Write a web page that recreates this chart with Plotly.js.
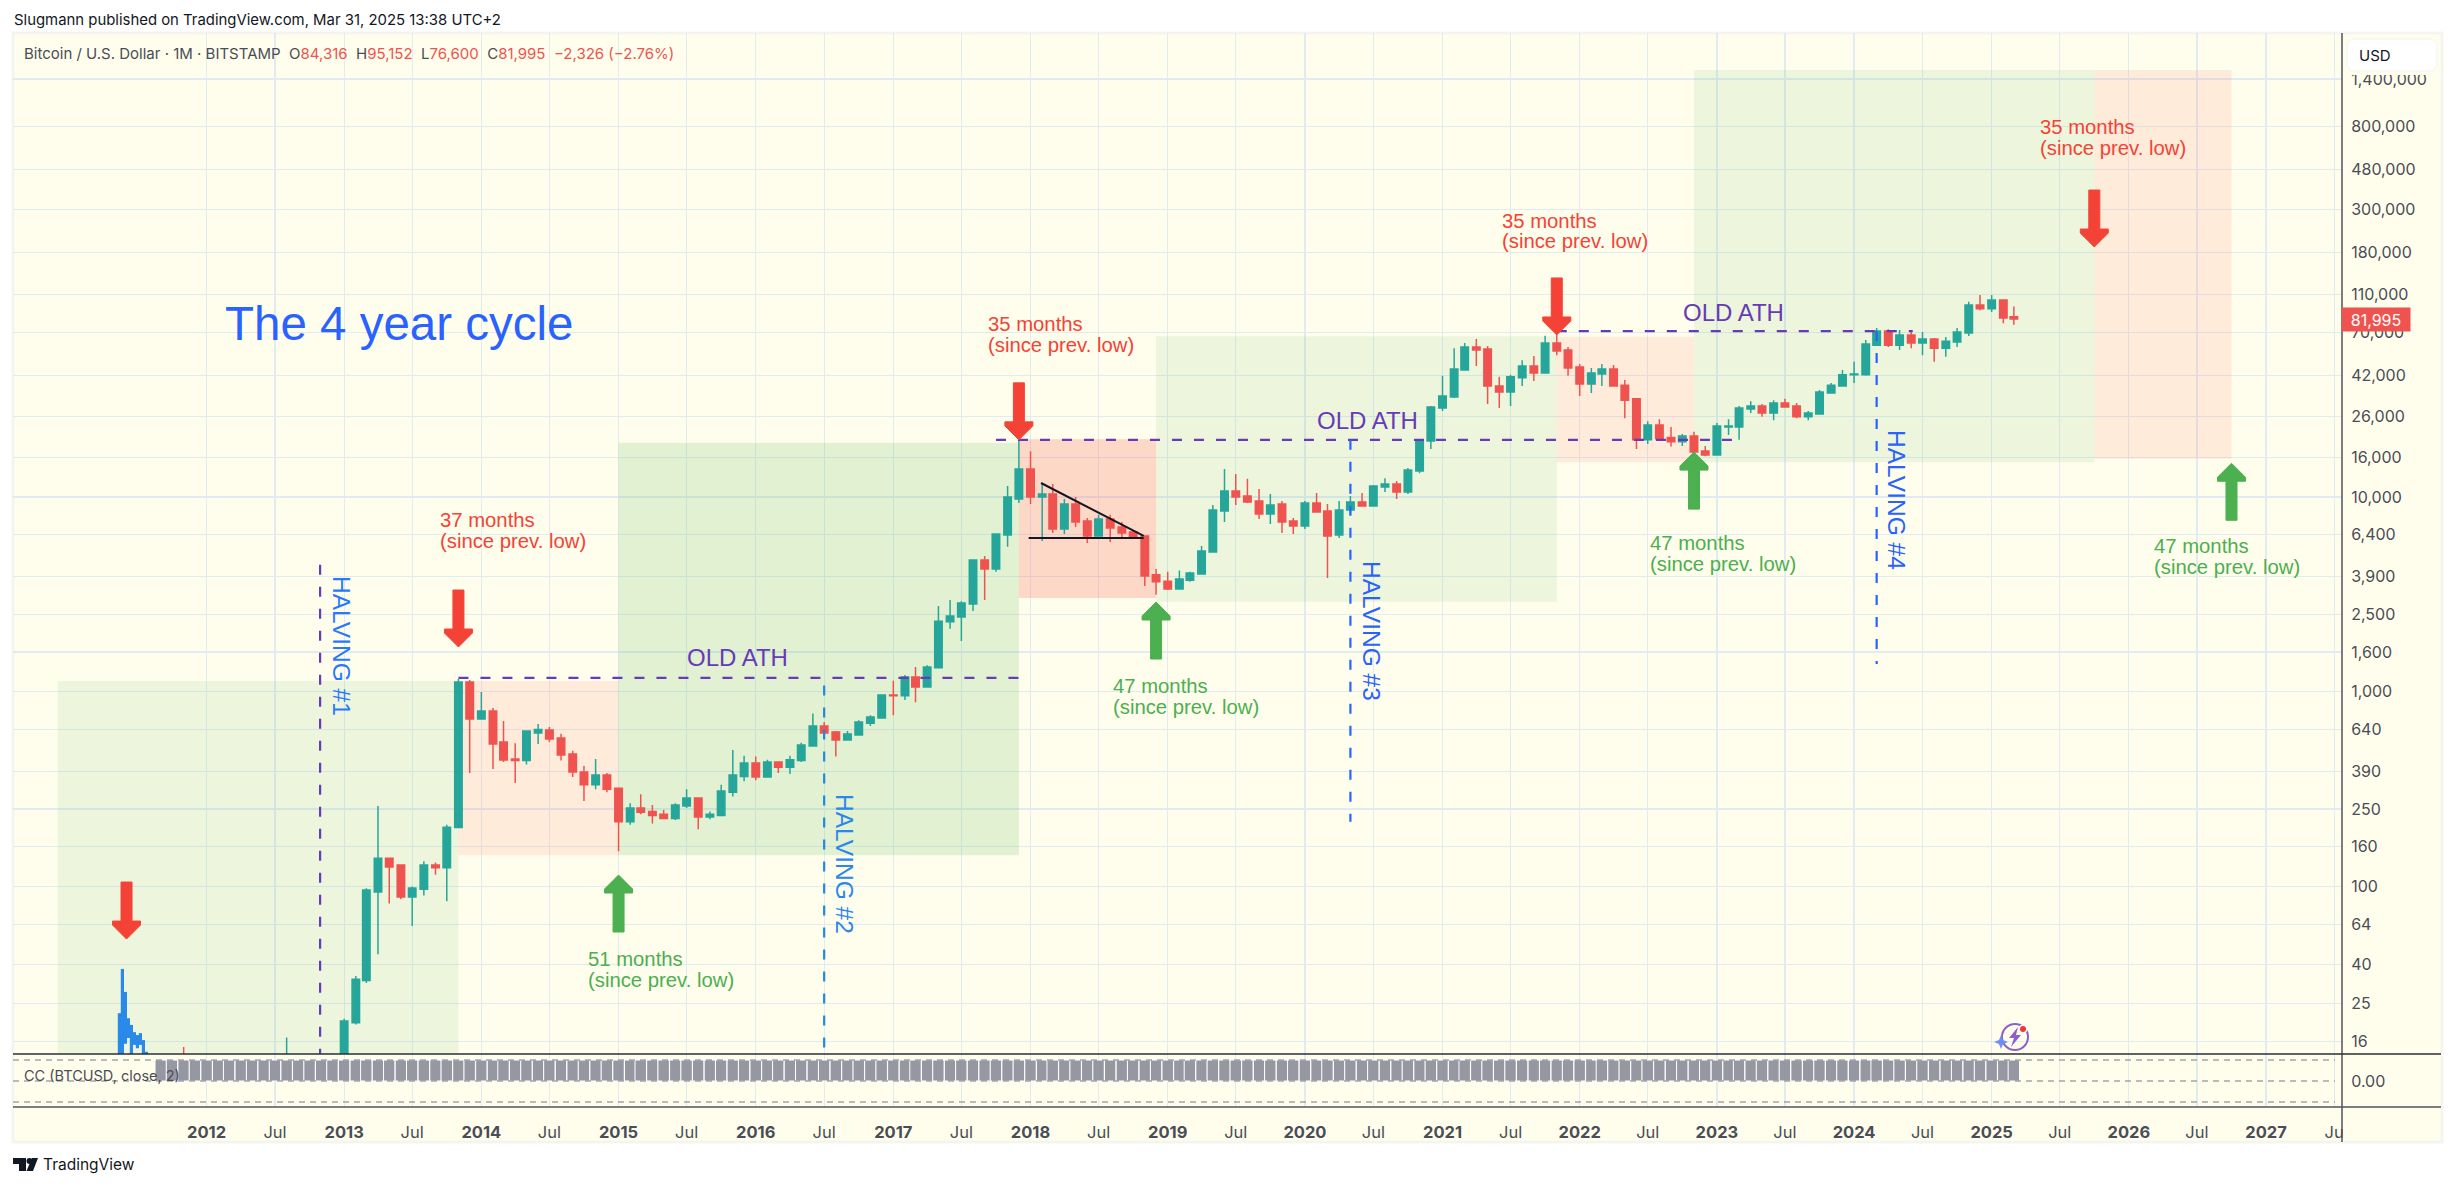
<!DOCTYPE html>
<html>
<head>
<meta charset="utf-8">
<script src="https://cdn.plot.ly/plotly-3.0.1.min.js"></script>
<style>body { margin: 0; background: #fff; }</style>
</head>
<body>
<div id="chart"></div>
<script>
// monthly candles, Sep 2011 .. Mar 2025, one row per year
const opens = [
  5.3, 5.2, 3.2, 3.0,
  4.7, 5.5, 4.9, 4.9, 5.0, 5.2, 6.7, 9.4, 10.2, 12.4, 11.2, 12.5,
  13.5, 20.0, 33, 93.8, 140, 129, 88.5, 97, 129, 125, 201, 1123,
  725, 796, 552, 452, 444, 615, 636, 580, 480, 387, 333, 374,
  320, 215, 253, 243, 235, 224, 259, 285, 228, 232, 305, 368,
  431, 365, 436, 410, 444, 527, 667, 621, 565, 601, 690, 733,
  962, 955, 1190, 1059, 1330, 2290, 2420, 2820, 4750, 4270, 6380, 9770,
  13930, 10000, 10350, 6850, 9200, 7530, 6310, 7700, 7010, 6620, 6310, 3990,
  3700, 3370, 3740, 4020, 5220, 8470, 10750, 10120, 9540, 8180, 9200, 7530,
  7090, 9330, 8470, 6380, 8570, 9430, 9000, 11250, 11650, 10600, 13600, 19400,
  28600, 32600, 44900, 58900, 57500, 37100, 34600, 41000, 47000, 43300, 61800, 56800,
  46500, 38000, 42800, 45400, 37500, 31900, 19650, 23400, 20200, 19200, 20550, 17230,
  16430, 22900, 22900, 28300, 29300, 27000, 30400, 29300, 25800, 26700, 34200, 37100,
  42400, 42400, 60200, 71200, 60200, 67900, 61800, 64800, 58000, 62400, 69500, 96700,
  92500, 102600, 84316,
];
const highs = [
  6.0, 5.5, 15, 5.0,
  7.4, 6.3, 5.5, 5.4, 5.4, 7.0, 9.6, 16.8, 12.9, 13.0, 13.0, 13.9,
  21, 34.8, 98, 259, 140, 129.5, 100, 135, 133, 208, 1163, 1150,
  998, 825, 708, 545, 631, 683, 660, 610, 498, 416, 452, 383,
  320, 268, 298, 262, 247, 268, 316, 285, 243, 333, 502, 470,
  465, 448, 436, 470, 547, 774, 699, 630, 630, 715, 757, 970,
  1140, 1220, 1340, 1370, 2760, 2960, 2920, 4750, 4980, 6450, 11400, 19666,
  17200, 11650, 11650, 9770, 10000, 7800, 8100, 8100, 7440, 6770, 6310, 4270,
  4130, 4190, 4130, 5600, 9100, 13930, 13130, 12400, 11000, 10350, 9540, 7800,
  9540, 10480, 9200, 9540, 10120, 10480, 11530, 12500, 12100, 14100, 19650, 29300,
  41900, 58000, 61800, 64800, 59600, 41400, 42400, 50400, 52900, 67200, 68100, 58900,
  48200, 46000, 48200, 47600, 39900, 31900, 24500, 25100, 22900, 21050, 21600, 18300,
  24000, 25100, 29300, 31000, 30000, 31400, 31900, 30400, 27600, 35400, 38500, 44900,
  49400, 64000, 73800, 72600, 72000, 72000, 70400, 65500, 66200, 73800, 100400, 108800,
  108800, 102600, 95152,
];
const lows = [
  4.5, 2.2, 2.0, 2.8,
  4.7, 4.2, 4.6, 4.7, 4.8, 5.1, 6.5, 7.5, 9.9, 10, 10.4, 12.4,
  12.8, 19.6, 32, 45, 82, 86, 62.8, 90, 115, 84, 201, 383,
  719, 402, 436, 340, 423, 540, 552, 444, 365, 275, 316, 305,
  152, 208, 235, 211, 224, 220, 253, 197, 222, 232, 290, 347,
  352, 365, 383, 378, 436, 527, 572, 465, 565, 601, 667, 733,
  757, 908, 885, 1059, 1330, 2110, 1825, 2600, 2960, 4130, 5550, 9330,
  9200, 5950, 6530, 6450, 7010, 5810, 6310, 5880, 6230, 6230, 3490, 3150,
  3330, 3370, 3670, 4020, 5220, 7440, 9100, 9330, 7700, 7270, 6530, 6450,
  6850, 8370, 3840, 6160, 8100, 8950, 9000, 10600, 9770, 10350, 13260, 17640,
  27600, 32200, 44900, 47000, 30000, 28600, 29300, 37100, 39400, 43300, 53500, 41900,
  33000, 34200, 37100, 37100, 25400, 17640, 18700, 19900, 18150, 18300, 15500, 16200,
  16430, 20800, 19650, 27000, 25800, 24800, 29000, 25400, 24800, 26700, 34200, 37100,
  38500, 41900, 60200, 58900, 56800, 58000, 53500, 49400, 52500, 58900, 67000, 91000,
  89000, 78000, 76600,
];
const closes = [
  5.2, 3.2, 3.0, 4.7,
  5.5, 4.9, 4.9, 5.0, 5.2, 6.7, 9.4, 10.2, 12.4, 11.2, 12.5, 13.5,
  20.4, 33.5, 96, 140, 126, 88.5, 98.4, 129, 125, 202, 1123, 725,
  796, 540, 446, 444, 630, 640, 572, 474, 387, 333, 374, 316,
  215, 253, 241, 232, 224, 262, 285, 228, 235, 310, 374, 431,
  365, 436, 410, 448, 533, 667, 614, 565, 608, 699, 742, 962,
  955, 1190, 1059, 1340, 2300, 2450, 2855, 4750, 4270, 6450, 10000, 13930,
  10000, 10350, 6850, 9200, 7440, 6310, 7700, 6930, 6530, 6230, 3930, 3670,
  3370, 3790, 4070, 5280, 8570, 10750, 10000, 9430, 8180, 9100, 7440, 7090,
  9330, 8370, 6310, 8570, 9430, 9000, 11400, 11650, 10600, 13770, 19650, 29000,
  33000, 45400, 58900, 56800, 37100, 34600, 41400, 47000, 43300, 61800, 56200, 46000,
  38000, 43300, 45400, 37100, 31400, 19650, 23400, 19900, 19200, 20550, 17000, 16430,
  23170, 23170, 28600, 29300, 27000, 30400, 29000, 25800, 27000, 34600, 37500, 42400,
  42800, 61000, 71200, 60200, 67900, 61800, 64800, 58000, 63000, 70400, 96700, 92500,
  102600, 83000, 81995,
];

// the blue 2011 spike
const spikeDates = ["2011-05-14", "2011-05-22", "2011-05-30", "2011-06-07", "2011-06-15", "2011-06-23", "2011-07-01", "2011-07-09", "2011-07-17", "2011-07-25"];
const spikeHighs = [22.4, 37.8, 28.8, 21.1, 19.5, 17.9, 17.3, 17.7, 16.3, 14.2];
const spikeLows = [10, 12, 15.6, 16.7, 12, 15.4, 14.8, 15.4, 12, 12];

const priceTicks = [1400000, 800000, 480000, 300000, 180000, 110000, 70000, 42000, 26000, 16000, 10000, 6400, 3900, 2500, 1600, 1000, 640, 390, 250, 160, 100, 64, 40, 25, 16];

const months = [];
for (let y = 2011, m = 9; y < 2025 || m <= 3; m++) {
  if (m > 12) { m = 1; y++; }
  months.push(y + "-" + String(m).padStart(2, "0") + "-01");
}
const ccValues = months.map(() => 1);

const timeTicks = [];
const timeLabels = [];
for (let y = 2012; y <= 2027; y++) {
  timeTicks.push(y + "-01-01", y + "-07-01");
  timeLabels.push("<b>" + y + "</b>", y === 2027 ? "Ju" : "Jul");
}

const GREEN = "#26a69a", RED = "#ef5350";
const PURPLE = "#673ab7", BLUE = "#2962ff";
const DRAW_FONT = "Liberation Sans";
const UI_FONT = "Inter";
const BG = "#fffeec";

// plot box in page pixels, only used for layout items that sit on the page
const L = 13, R = 2342, T = 33, B = 1107;
const fx = (p) => (p - L) / (R - L);
const fy = (p) => (B - p) / (B - T);

const spikeX = [], spikeY = [];
spikeDates.forEach((d, i) => {
  spikeX.push(d, d, null);
  spikeY.push(spikeLows[i], spikeHighs[i], null);
});

const traces = [
  {
    type: "candlestick",
    x: months,
    open: opens,
    high: highs,
    low: lows,
    close: closes,
    xaxis: "x",
    yaxis: "y",
    whiskerwidth: 0,
    increasing: { line: { color: GREEN, width: 1.5 }, fillcolor: GREEN },
    decreasing: { line: { color: RED, width: 1.5 }, fillcolor: RED },
    hoverinfo: "skip",
  },
  {
    type: "scatter",
    mode: "lines",
    x: spikeX,
    y: spikeY,
    xaxis: "x",
    yaxis: "y",
    line: { color: "#2a8ae8", width: 3.2 },
    hoverinfo: "skip",
  },
  {
    type: "bar",
    x: months,
    y: ccValues,
    xaxis: "x",
    yaxis: "y2",
    width: 30.44 * 86400000,
    marker: { color: "#9598a1", line: { color: "#ffffff", width: 1 } },
    hoverinfo: "skip",
  },
];

function box(x0, x1, top, bottom, fill) {
  return { type: "rect", layer: "between", xref: "x", yref: "y", x0, x1, y0: bottom, y1: top, fillcolor: fill, line: { width: 0 } };
}
function dashed(x0, y0, x1, y1, color) {
  return { type: "line", layer: "above", xref: "x", yref: "y", x0, x1, y0, y1, line: { color, width: 2.2, dash: "10px,12px" } };
}
function solid(x0, y0, x1, y1) {
  return { type: "line", layer: "above", xref: "x", yref: "y", x0, x1, y0, y1, line: { color: "#131722", width: 2 } };
}
// thick arrow, tip sits on date/price, sizes in pixels
function arrow(date, price, color, down) {
  const s = down ? 1 : -1;
  return {
    type: "path", layer: "above", xref: "x", yref: "y", xsizemode: "pixel", ysizemode: "pixel",
    xanchor: date, yanchor: price,
    path: `M 0 0 L -14 ${14 * s} L -14 ${18 * s} L -5.5 ${18 * s} L -5.5 ${57 * s} L 5.5 ${57 * s} L 5.5 ${18 * s} L 14 ${18 * s} L 14 ${14 * s} Z`,
    fillcolor: color,
    line: { color, width: 1 },
  };
}
function page(path, fill, line, layer) {
  return { type: "path", layer: layer || "above", xref: "paper", yref: "paper", path, fillcolor: fill, line: line || { width: 0 } };
}
function pagePath(points) {
  return "M " + points.map((p) => fx(p[0]) + " " + fy(p[1])).join(" L ") + " Z";
}
function pageCircle(cx, cy, r, fill, line) {
  return { type: "circle", layer: "above", xref: "paper", yref: "paper", x0: fx(cx - r), x1: fx(cx + r), y0: fy(cy + r), y1: fy(cy - r), fillcolor: fill, line: line || { width: 0 } };
}
function pageLine(x0, y0, x1, y1, color, w) {
  return { type: "line", layer: "above", xref: "paper", yref: "paper", x0: fx(x0), x1: fx(x1), y0: fy(y0), y1: fy(y1), line: { color, width: w || 1.5 } };
}

const GREEN_SOFT = "rgba(76,175,80,0.10)", GREEN_MID = "rgba(76,175,80,0.17)";
const RED_SOFT = "rgba(244,67,54,0.10)", RED_MID = "rgba(244,67,54,0.20)";

const shapes = [
  { type: "rect", layer: "below", xref: "paper", yref: "paper", x0: fx(L), x1: fx(2442), y0: fy(1142), y1: fy(T), fillcolor: BG, line: { color: "#f5f5ef", width: 3 } },

  box("2010-12-01", "2013-11-01", 1135, 5, GREEN_SOFT),
  box("2013-11-01", "2015-01-01", 1135, 145, RED_SOFT),
  box("2015-01-01", "2017-12-01", 19000, 145, GREEN_MID),
  box("2017-12-01", "2018-12-01", 19800, 3030, RED_MID),
  box("2018-12-01", "2021-11-01", 66900, 2900, GREEN_SOFT),
  box("2021-11-01", "2022-11-01", 66400, 15100, RED_SOFT),
  box("2022-11-01", "2025-10-01", 1556000, 15100, GREEN_SOFT),
  box("2025-10-01", "2026-10-01", 1556000, 15700, RED_SOFT),

  dashed("2013-11-01", 1178, "2017-12-01", 1178, PURPLE),
  dashed("2017-10-01", 19650, "2023-02-10", 19650, PURPLE),
  dashed("2021-11-01", 71100, "2024-06-05", 71100, PURPLE),

  dashed("2012-10-29", 4490, "2012-10-29", 10, PURPLE),
  dashed("2016-07-01", 1078, "2016-07-01", 10, "#1e88e5"),
  dashed("2020-05-01", 19650, "2020-05-01", 215, BLUE),
  dashed("2024-03-01", 71100, "2024-03-01", 1390, BLUE),

  solid("2018-01-29", 11800, "2018-10-29", 6310),
  solid("2017-12-27", 6160, "2018-10-29", 6160),

  arrow("2011-06-02", 53.8, "#f44336", true),
  arrow("2015-01-01", 114.7, "#4caf50", false),
  arrow("2013-11-01", 1698, "#f44336", true),
  arrow("2017-12-01", 19650, "#f44336", true),
  arrow("2018-12-01", 2890, "#4caf50", false),
  arrow("2021-11-01", 67900, "#f44336", true),
  arrow("2022-11-01", 17000, "#4caf50", false),
  arrow("2025-10-01", 192000, "#f44336", true),
  arrow("2026-10-01", 14900, "#4caf50", false),

  // indicator band
  { type: "line", layer: "above", xref: "paper", yref: "y2", x0: 0, x1: fx(2335), y0: 1, y1: 1, line: { color: "#787b86", width: 1.2, dash: "6px,5px" } },
  { type: "line", layer: "above", xref: "paper", yref: "y2", x0: 0, x1: fx(2335), y0: 0, y1: 0, line: { color: "#787b86", width: 1.2, dash: "6px,5px" } },
  { type: "line", layer: "above", xref: "paper", yref: "y2", x0: 0, x1: fx(2335), y0: -1, y1: -1, line: { color: "#787b86", width: 1.2, dash: "6px,5px" } },

  // pane frame
  pageLine(R, T, R, 1142, "#50535e"),
  pageLine(L, 1054, 2441, 1054, "#2a2e39"),
  pageLine(L, B, 2441, B, "#50535e"),

  // USD box, it hides the top of the first price label
  page(pagePath([[2343, 70], [2441, 70], [2441, 75], [2343, 75]]), BG),
  page(pagePath([[2352, 39], [2432, 39], [2437, 44], [2437, 66], [2432, 71], [2352, 71], [2347, 66], [2347, 44]]), "#ffffff", { color: "#f2f2ee", width: 1 }),

  // badge near the last candle
  pageCircle(2015, 1037, 13, "rgba(0,0,0,0)", { color: "#8e5fc8", width: 2 }),
  page(pagePath([[2018, 1027], [2009, 1038], [2014, 1038], [2011, 1047], [2021, 1035], [2016, 1035]]), "#8e5fc8"),
  pageCircle(2023, 1029, 4.5, "#ffffff"),
  pageCircle(2023, 1029, 3, "#f4362b"),
  page(pagePath([[2001, 1035], [2003, 1040], [2008, 1042], [2003, 1044], [2001, 1049], [1999, 1044], [1994, 1042], [1999, 1040]]), "#6a8ff5"),

  // TradingView mark
  page(pagePath([[13, 1158], [26, 1158], [26, 1171], [19, 1171], [19, 1164], [13, 1164]]), "#131722"),
  pageCircle(29.5, 1161, 3, "#131722"),
  page(pagePath([[32, 1158], [38, 1158], [33, 1171], [26.5, 1171]]), "#131722"),
];

function text(str, x, y, color, size, opts) {
  return Object.assign({
    xref: "paper", yref: "paper", x: fx(x), y: fy(y), text: str, showarrow: false,
    xanchor: "left", yanchor: "middle", font: { family: DRAW_FONT, size, color },
  }, opts || {});
}
function twoLines(first, x, y, color) {
  return [
    text(first, x - 2, y, color, 20.3),
    text("(since prev. low)", x - 2, y + 20.5, color, 20.3),
  ];
}
function halving(label, x, y, color) {
  return text(label, x, y, color, 24.5, { textangle: 90, xanchor: "center" });
}
function uiText(str, x, y, color, size) {
  return text(str, x, y, color, size, { font: { family: UI_FONT, size, color } });
}

const REDTXT = "#f44336", GREENTXT = "#4caf50";
const val = (s) => `<span style="color:${RED}">${s}</span>`;

const annotations = [
  uiText("Slugmann published on TradingView.com, Mar 31, 2025 13:38 UTC+2", 12, 20, "#131722", 14.9),
  uiText(`Bitcoin / U.S. Dollar · 1M · BITSTAMP  O${val("84,316")}  H${val("95,152")}  L${val("76,600")}  C${val("81,995")}  ${val("−2,326 (−2.76%)")}`, 22, 54, "#4a4d57", 15),
  uiText("CC (BTCUSD, close, 2)", 22, 1075, "#4a4d57", 14.5),
  text("The 4 year cycle", 223, 323, BLUE, 47.5),
  uiText("USD", 2357, 55, "#131722", 15),
  uiText("TradingView", 41, 1165, "#131722", 15.5),

  text("OLD ATH", 685, 657, PURPLE, 24),
  text("OLD ATH", 1315, 420, PURPLE, 24),
  text("OLD ATH", 1681, 312, PURPLE, 24),

  halving("HALVING #1", 342, 646, "#2979ff"),
  halving("HALVING #2", 845, 864, "#2b87ea"),
  halving("HALVING #3", 1372, 631, BLUE),
  halving("HALVING #4", 1897, 500, BLUE),

  ...twoLines("37 months", 440, 520, REDTXT),
  ...twoLines("51 months", 588, 959, GREENTXT),
  ...twoLines("35 months", 988, 324, REDTXT),
  ...twoLines("47 months", 1113, 686, GREENTXT),
  ...twoLines("35 months", 1502, 221, REDTXT),
  ...twoLines("47 months", 1650, 543, GREENTXT),
  ...twoLines("35 months", 2040, 127, REDTXT),
  ...twoLines("47 months", 2154, 546, GREENTXT),

  // last price tag, annotation y on a log axis is the exponent
  {
    xref: "paper", yref: "y", x: 1, y: Math.log10(closes[closes.length - 1]), text: "81,995", showarrow: false,
    xanchor: "left", yanchor: "middle", width: 66, height: 21, align: "center", bgcolor: RED, xshift: -1,
    font: { family: UI_FONT, size: 16, color: "#ffffff" },
  },
];

const GRID = "#e1ecf2";
const TICK_FONT = { family: UI_FONT, size: 16, color: "#4a4d57" };

const layout = {
  width: 2455,
  height: 1186,
  autosize: false,
  showlegend: false,
  hovermode: false,
  barmode: "overlay",
  boxgap: 0.29,
  boxgroupgap: 0,
  paper_bgcolor: "#ffffff",
  plot_bgcolor: "rgba(0,0,0,0)",
  margin: { l: L, r: 2455 - R, t: T, b: 1186 - B, pad: 0 },
  xaxis: {
    type: "date",
    anchor: "y2",
    range: ["2010-08-04", "2027-07-22"],
    rangeslider: { visible: false },
    tickmode: "array",
    tickvals: timeTicks,
    ticktext: timeLabels,
    tickangle: 0,
    ticks: "outside",
    ticklen: 10,
    tickcolor: "rgba(0,0,0,0)",
    tickfont: Object.assign({}, TICK_FONT, { size: 16.5 }),
    showgrid: true,
    gridcolor: GRID,
    gridwidth: 1.2,
    zeroline: false,
    showline: false,
  },
  yaxis: {
    type: "log",
    anchor: "x",
    side: "right",
    domain: [fy(1054), 1],
    range: [1.1407, 6.382],
    tickmode: "array",
    tickvals: priceTicks,
    ticktext: priceTicks.map((v) => v.toLocaleString("en-US")),
    ticks: "outside",
    ticklen: 5,
    tickcolor: "rgba(0,0,0,0)",
    tickfont: TICK_FONT,
    showgrid: true,
    gridcolor: GRID,
    gridwidth: 1.2,
    zeroline: false,
    showline: false,
  },
  yaxis2: {
    anchor: "x",
    side: "right",
    domain: [0, fy(1054)],
    range: [-1.238, 1.286],
    tickmode: "array",
    tickvals: [0],
    ticktext: ["0.00"],
    ticks: "outside",
    ticklen: 5,
    tickcolor: "rgba(0,0,0,0)",
    tickfont: TICK_FONT,
    showgrid: false,
    zeroline: false,
    showline: false,
  },
  shapes,
  annotations,
};

Plotly.newPlot("chart", traces, layout, { displayModeBar: false, staticPlot: true, responsive: false });
</script>
</body>
</html>
